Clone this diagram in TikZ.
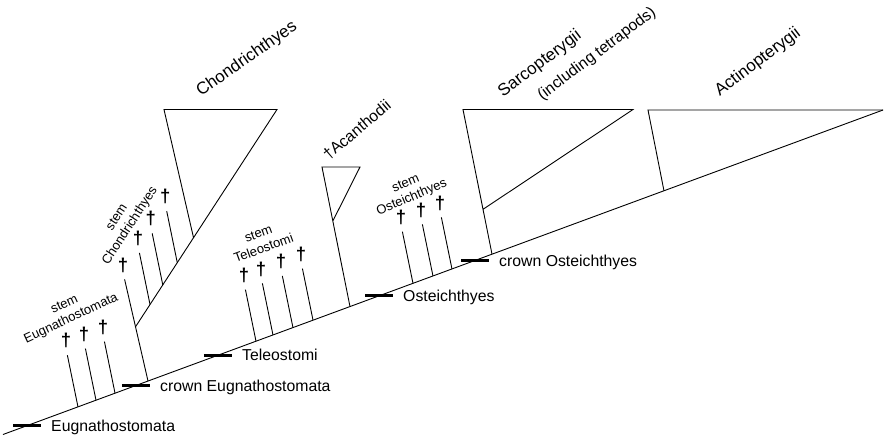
\documentclass[tikz,border=0pt]{standalone}
\usepackage{fontspec}
\setmainfont{Liberation Sans}
\usetikzlibrary{calc}
\newcommand{\extinct}[2]{%
  \node[dag] (#2) at ($(#1)+(-12,-66)$) {\dag};
  \draw[branch,shorten >=7] (#1) -- (#2.south);
}
\newcommand{\nodebar}[3]{%
  \draw[bar] ($(#1)+(-14,0)$) -- ($(#1)+(14,0)$);
  \node[lab,anchor=base west] (#3) at ($(#1)+(24,5.7)$) {#2};
}

\begin{document}
\begin{tikzpicture}[x=1pt,y=-1pt,
        branch/.style={line width=0.9pt},
        bar/.style={line width=3pt},
        dag/.style={inner sep=0pt,font=\bfseries\fontsize{18.5}{18.5}\selectfont},
        lab/.style={inner sep=0pt,font=\fontsize{15.8}{18}\selectfont},
        stemlab/.style={inner sep=0pt,align=center,font=\fontsize{13}{15.5}\selectfont},
        clade/.style={inner sep=0pt,font=\fontsize{17}{20}\selectfont}]
        \useasboundingbox (0,0) rectangle (884,437);
        \coordinate (root) at (3,434.5);
        \coordinate (tip) at (883,110);
        \draw[branch] (root) -- (tip);
        \path (root) -- (tip)
          coordinate[pos=.0273] (eug) coordinate[pos=.0852] (se1) coordinate[pos=.1057] (se2)
          coordinate[pos=.1273] (se3) coordinate[pos=.1511] (ceug) coordinate[pos=.1648] (cho)
          coordinate[pos=.2443] (tel) coordinate[pos=.2875] (st1) coordinate[pos=.3068] (st2)
          coordinate[pos=.3295] (st3) coordinate[pos=.3523] (st4) coordinate[pos=.3943] (aca)
          coordinate[pos=.4273] (ost) coordinate[pos=.4659] (so1) coordinate[pos=.4886] (so2)
          coordinate[pos=.5102] (so3) coordinate[pos=.5364] (cost) coordinate[pos=.5557] (sar)
          coordinate[pos=.7511] (act);
        \extinct{se1}{de1}\extinct{se2}{de2}\extinct{se3}{de3}
        \extinct{st1}{dt1}\extinct{st2}{dt2}\extinct{st3}{dt3}\extinct{st4}{dt4}
        \extinct{so1}{do1}\extinct{so2}{do2}\extinct{so3}{do3}
        \node[dag] (dc1) at ($(cho)+(-25,-116)$) {\dag};
        \draw[branch,shorten >=7] (cho) -- (dc1.south);
        \coordinate (chA) at ($(cho)!.5!(dc1.south)$);
        \coordinate (chTL) at (164,109.5);
        \coordinate (chTR) at (277,109.5);
        \coordinate (chApex) at ($(chA)!.41!(chTR)$);
        \draw[branch] (chA) -- (chTR) -- (chTL) -- (chApex);
        \path (chA) -- (chApex) coordinate[pos=.25] (sc2) coordinate[pos=.47] (sc3) coordinate[pos=.72] (sc4);
        \extinct{sc2}{dc2}\extinct{sc3}{dc3}\extinct{sc4}{dc4}
        \coordinate (acTL) at (322,167);
        \coordinate (acTR) at (360,167);
        \draw[branch] (aca) -- (acTL) -- (acTR) -- ($(acTL)!.387!(aca)$);
        \coordinate (saTL) at (463,109.5);
        \coordinate (saTR) at (633,109.5);
        \draw[branch] (sar) -- (saTL) -- (saTR) -- ($(saTL)!.69!(sar)$);
        \coordinate (atTL) at (648,110);
        \draw[branch] (act) -- (atTL) -- (tip);
        \nodebar{eug}{Eugnathostomata}{leug}
        \nodebar{ceug}{crown Eugnathostomata}{lceug}
        \nodebar{tel}{Teleostomi}{ltel}
        \nodebar{ost}{Osteichthyes}{lost}
        \nodebar{cost}{crown Osteichthyes}{lcost}
        \node[stemlab,rotate=25] (seug) at (68,312) {stem\\Eugnathostomata};
        \node[stemlab,rotate=57] (scho) at (124,222) {stem\\Chondrichthyes};
        \node[stemlab,rotate=20] (stel) at (261,241) {stem\\Teleostomi};
        \node[stemlab,rotate=23] (sost) at (409,191) {stem\\Osteichthyes};
        \node[lab,rotate=40] (laca) at (357,130) {\dag Acanthodii};
        \node[clade,rotate=35] (lcho) at (247,59) {Chondrichthyes};
        \node[clade,rotate=37] (lsar) at (540,64) {Sarcopterygii};
        \node[lab,rotate=37] (linc) at (597,54) {(including tetrapods)};
        \node[clade,rotate=37] (lact) at (758,62) {Actinopterygii};
\end{tikzpicture}
\end{document}
